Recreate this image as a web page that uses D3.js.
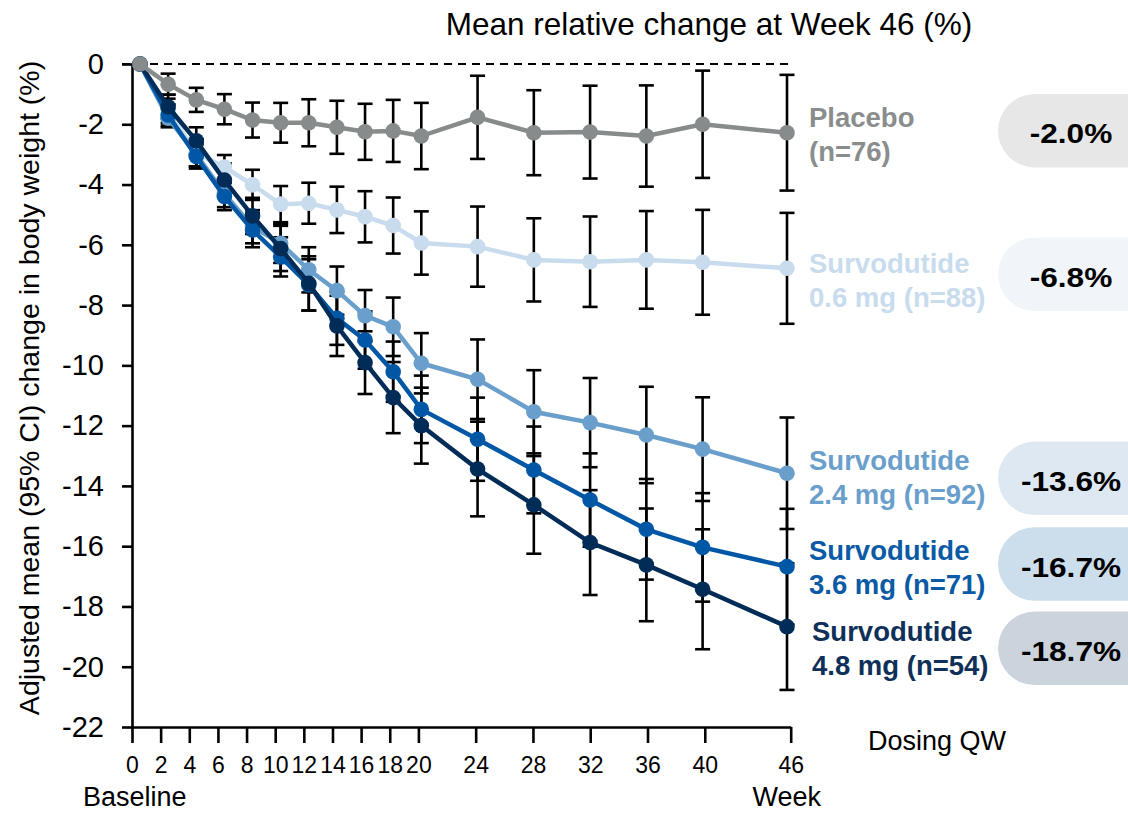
<!DOCTYPE html>
<html>
<head>
<meta charset="utf-8">
<script src="https://cdn.jsdelivr.net/npm/d3@7"></script>
<style>
body { margin: 0; background: #fff; }
svg text { font-family: "Liberation Sans", Arial, sans-serif; }
</style>
</head>
<body>
<svg id="chart" width="1128" height="813"></svg>
<script>
// semaines de mesure
const weeks = [0, 2, 4, 6, 8, 10, 12, 14, 16, 18, 20, 24, 28, 32, 36, 40, 46];
const xTicks = [0, 2, 4, 6, 8, 10, 12, 14, 16, 18, 20, 24, 28, 32, 36, 40, 46];
const yTicks = [0, -2, -4, -6, -8, -10, -12, -14, -16, -18, -20, -22];

const groupNames = ["Placebo", "Survodutide", "Survodutide", "Survodutide", "Survodutide"];
const groupDoses = ["(n=76)", "0.6 mg (n=88)", "2.4 mg (n=92)", "3.6 mg (n=71)", "4.8 mg (n=54)"];

// moyennes ajustees (%) et demi-largeur IC 95%
const placebo   = [0, -0.67, -1.19, -1.5, -1.86, -1.95, -1.95, -2.1, -2.25, -2.22, -2.39, -1.77, -2.28, -2.26, -2.39, -2.0, -2.28];
const placeboCI = [0, 0.35, 0.4, 0.5, 0.58, 0.66, 0.78, 0.88, 0.93, 1.03, 1.1, 1.38, 1.41, 1.54, 1.68, 1.78, 1.92];
const dose06    = [0, -1.55, -2.95, -3.42, -4.01, -4.65, -4.62, -4.84, -5.07, -5.36, -5.94, -6.06, -6.5, -6.56, -6.5, -6.58, -6.78];
const dose06CI  = [0, 0.4, 0.45, 0.4, 0.5, 0.6, 0.68, 0.77, 0.85, 0.93, 1.05, 1.33, 1.38, 1.5, 1.62, 1.74, 1.84];
const dose24    = [0, -1.8, -3.0, -4.3, -5.4, -5.95, -6.83, -7.52, -8.35, -8.72, -9.93, -10.46, -11.54, -11.9, -12.31, -12.78, -13.58];
const dose24CI  = [0, 0.3, 0.4, 0.45, 0.55, 0.65, 0.75, 0.8, 0.85, 0.97, 1.0, 1.32, 1.38, 1.48, 1.6, 1.72, 1.85];
const dose36    = [0, -1.69, -3.07, -4.4, -5.51, -6.4, -7.33, -8.44, -9.16, -10.21, -11.46, -12.45, -13.47, -14.47, -15.44, -16.04, -16.68];
const dose36CI  = [0, 0.35, 0.4, 0.45, 0.57, 0.65, 0.85, 0.88, 0.95, 1.0, 1.12, 1.38, 1.44, 1.55, 1.67, 1.8, 1.92];
const dose48    = [0, -1.42, -2.55, -3.85, -5.04, -6.12, -7.28, -8.69, -9.91, -11.07, -12.0, -13.44, -14.63, -15.88, -16.62, -17.43, -18.67];
const dose48CI  = [0, 0.4, 0.45, 0.55, 0.6, 0.75, 0.9, 1.0, 1.04, 1.18, 1.26, 1.57, 1.62, 1.74, 1.87, 1.99, 2.1];

// changement relatif moyen a S46
const week46 = [-2.0, -6.8, -13.6, -16.7, -18.7];

// styles
const colors = ["#878b8b", "#c8dcee", "#6a9fcc", "#0057a5", "#002c57"];
const textColors = ["#8a8d8d", "#c8dcee", "#6a9fcc", "#0a5aa5", "#0f3058"];
const badgeFill = ["#e7e7e7", "#f1f5fa", "#dee8f3", "#ccddec", "#cbd3dc"];
const labelX = [809, 809, 809, 809, 812];
const labelY = [127, 272.5, 469.5, 559.5, 641];
const badgeY = [130.7, 274.3, 478.3, 564, 648.3];

const allMeans = [placebo, dose06, dose24, dose36, dose48];
const allCI = [placeboCI, dose06CI, dose24CI, dose36CI, dose48CI];

var series = allMeans.map(function (m, i) {
  return {
    id: i,
    points: weeks.map(function (w, j) { return {week: w, v: m[j], ci: allCI[i][j]}; })
  };
});
// ordre de dessin: placebo au dessus
var drawOrder = [1, 2, 3, 4, 0];

var svg = d3.select("#chart");

var yScale = d3.scaleLinear().domain([-22, 0]).range([727, 64]);
var xAxisScale = d3.scaleLinear().domain([0, 46]).range([132, 790.7]);
// les points sont un peu decales par rapport aux graduations
var xScale = d3.scaleLinear().domain([0, 46]).range([140, 787]);

// axes
var yAxis = svg.append("g")
  .attr("transform", "translate(132,0)")
  .call(d3.axisLeft(yScale).tickValues(yTicks).tickSize(10).tickSizeOuter(0).tickPadding(18)
    .tickFormat(function (d) { return String(d); }));
yAxis.attr("font-size", 29).attr("font-family", null);
yAxis.selectAll("path, line").attr("stroke", "#000").attr("stroke-width", 2.6);
yAxis.selectAll("text").attr("fill", "#000");

var xAxis = svg.append("g")
  .attr("transform", "translate(0,727)")
  .call(d3.axisBottom(xAxisScale).tickValues(xTicks).tickSize(16).tickSizeOuter(0).tickPadding(14)
    .tickFormat(function (d) { return String(d); }));
xAxis.attr("font-size", 23).attr("font-family", null);
xAxis.selectAll("path, line").attr("stroke", "#000").attr("stroke-width", 2.6);
xAxis.selectAll("text").attr("fill", "#000");

// ligne zero pointillee
svg.append("line")
  .attr("x1", 122).attr("x2", 792)
  .attr("y1", yScale(0)).attr("y2", yScale(0))
  .attr("stroke", "#000").attr("stroke-width", 2)
  .attr("stroke-dasharray", "8,6");

// barres d'erreur (en dessous)
var bars = svg.append("g").attr("id", "bars");
series.forEach(function (s) {
  var pts = s.points.filter(function (p) { return p.ci > 0; });
  var g = bars.append("g");
  g.selectAll("line.v").data(pts).enter().append("line")
    .attr("x1", function (p) { return xScale(p.week); })
    .attr("x2", function (p) { return xScale(p.week); })
    .attr("y1", function (p) { return yScale(p.v + p.ci); })
    .attr("y2", function (p) { return yScale(p.v - p.ci); });
  g.selectAll("line.top").data(pts).enter().append("line")
    .attr("x1", function (p) { return xScale(p.week) - 7.5; })
    .attr("x2", function (p) { return xScale(p.week) + 7.5; })
    .attr("y1", function (p) { return yScale(p.v + p.ci); })
    .attr("y2", function (p) { return yScale(p.v + p.ci); });
  g.selectAll("line.bot").data(pts).enter().append("line")
    .attr("x1", function (p) { return xScale(p.week) - 7.5; })
    .attr("x2", function (p) { return xScale(p.week) + 7.5; })
    .attr("y1", function (p) { return yScale(p.v - p.ci); })
    .attr("y2", function (p) { return yScale(p.v - p.ci); });
});
bars.selectAll("line").attr("stroke", "#000").attr("stroke-width", 2.6);

// courbes + points
var line = d3.line()
  .x(function (p) { return xScale(p.week); })
  .y(function (p) { return yScale(p.v); });

drawOrder.forEach(function (i) {
  var s = series[i];
  var g = svg.append("g");
  g.append("path")
    .attr("d", line(s.points))
    .attr("fill", "none")
    .attr("stroke", colors[i])
    .attr("stroke-width", 4.5);
  g.selectAll("circle").data(s.points).enter().append("circle")
    .attr("cx", function (p) { return xScale(p.week); })
    .attr("cy", function (p) { return yScale(p.v); })
    .attr("r", 7.8)
    .attr("fill", colors[i]);
});

// etiquettes des groupes
groupNames.forEach(function (name, i) {
  var t = svg.append("text")
    .attr("x", labelX[i]).attr("y", labelY[i])
    .attr("font-size", 27.5).attr("font-weight", "bold")
    .attr("fill", textColors[i]);
  t.append("tspan").attr("x", labelX[i]).text(name);
  t.append("tspan").attr("x", labelX[i]).attr("dy", 34).text(groupDoses[i]);
});

// pastilles S46
week46.forEach(function (v, i) {
  svg.append("rect")
    .attr("x", 998).attr("y", badgeY[i] - 36.7)
    .attr("width", 180).attr("height", 73.4)
    .attr("rx", 36.7).attr("ry", 36.7)
    .attr("fill", badgeFill[i]);
  svg.append("text")
    .attr("transform", "translate(1071," + (badgeY[i] + 12.5) + ") scale(1.13,1)")
    .attr("text-anchor", "middle")
    .attr("font-size", 28).attr("font-weight", "bold")
    .attr("fill", "#000")
    .text(v.toFixed(1) + "%");
});

// textes
svg.append("text")
  .attr("x", 709).attr("y", 35)
  .attr("text-anchor", "middle").attr("font-size", 31.5)
  .text("Mean relative change at Week 46 (%)");

svg.append("text")
  .attr("transform", "translate(38.5,388) rotate(-90)")
  .attr("text-anchor", "middle").attr("font-size", 28.5)
  .text("Adjusted mean (95% CI) change in body weight (%)");

svg.append("text")
  .attr("x", 83).attr("y", 806)
  .attr("font-size", 27).text("Baseline");

svg.append("text")
  .attr("x", 821).attr("y", 806)
  .attr("text-anchor", "end").attr("font-size", 27).text("Week");

svg.append("text")
  .attr("x", 868).attr("y", 750)
  .attr("font-size", 27).text("Dosing QW");
</script>
</body>
</html>
